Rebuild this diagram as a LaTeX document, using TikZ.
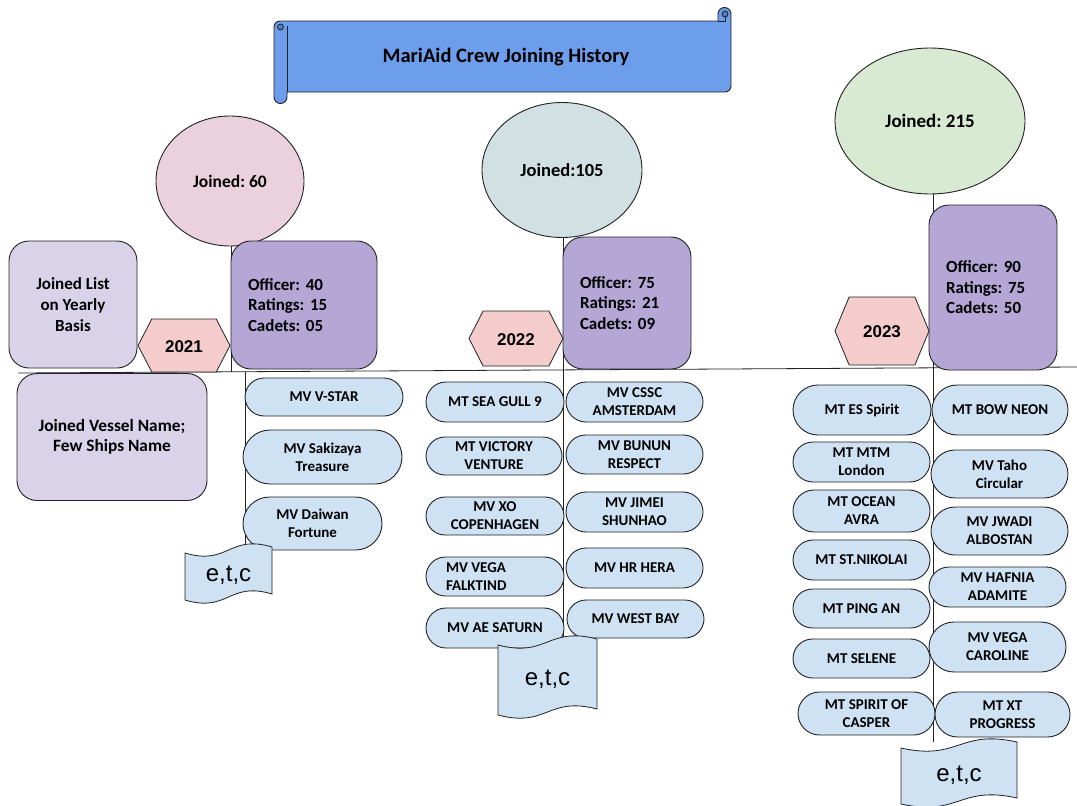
\documentclass[tikz,border=0pt]{standalone}
\usepackage{fontspec}
\setmainfont{Carlito}
\newfontfamily\arialfont{Liberation Sans}
\frenchspacing
\usetikzlibrary{shapes.misc,shapes.geometric}
\definecolor{bannerblue}{HTML}{6D9EEB}
\definecolor{pinkc}{HTML}{EAD1DC}
\definecolor{bluec}{HTML}{D0E0E3}
\definecolor{greenc}{HTML}{D9EAD3}
\definecolor{purplebox}{HTML}{B4A7D6}
\definecolor{lavbox}{HTML}{D9D2E9}
\definecolor{hexpink}{HTML}{F4CCCC}
\definecolor{pillblue}{HTML}{CFE2F3}
\definecolor{outline}{HTML}{222222}
\tikzset{
  every node/.style={text=black},
  pill/.style={rounded rectangle, draw=outline, line width=0.9pt, fill=pillblue, inner sep=0pt, align=center, font=\fontsize{15}{18}\selectfont\bfseries},
  pillleft/.style={pill, align=left},
  statbox/.style={draw=outline, line width=0.9pt, fill=purplebox, rounded corners=20pt, inner xsep=17pt, inner ysep=0pt, align=left, font=\fontsize{17}{20.5}\selectfont\bfseries},
  infobox/.style={draw=outline, line width=0.9pt, fill=lavbox, rounded corners=20pt, inner sep=0pt, align=center, font=\fontsize{17}{21}\selectfont\bfseries},
  joined/.style={ellipse, draw=outline, line width=0.9pt, inner sep=0pt},
  hexshape/.style={draw=outline, line width=0.8pt, fill=hexpink},
  yeartext/.style={font=\arialfont\fontsize{17}{20}\selectfont\bfseries, inner sep=0pt},
  tapeshape/.style={draw=outline, line width=0.8pt, fill=pillblue},
  etctext/.style={font=\arialfont\fontsize{24}{28}\selectfont, inner sep=0pt},
  conn/.style={draw=outline, line width=0.8pt},
  bannerstyle/.style={draw=outline, line width=0.9pt, fill=bannerblue},
}
% ship pill: [style] name, left, top, right, bottom, text
\newcommand{\shipnode}[7][pill]{%
  \node[#1, minimum width={(#5-#3)*1pt}, minimum height={(#6-#4)*1pt}] (#2) at ({(#3+#5)/2},{(#4+#6)/2}) {#7};}
% hexagon: name, l, t, r, b, text
\newcommand{\yearhex}[6]{%
  \draw[hexshape] (#2,{(#3+#5)/2}) -- ({#2+0.15*(#4-#2)},#3) -- ({#4-0.15*(#4-#2)},#3) -- (#4,{(#3+#5)/2}) -- ({#4-0.15*(#4-#2)},#5) -- ({#2+0.15*(#4-#2)},#5) -- cycle;
  \node[yeartext] (#1) at ({(#2+#4)/2},{(#3+#5)/2+1}) {#6};}
% punched tape: name, l, t, r, b
\newcommand{\etctape}[5]{%
  \draw[tapeshape] (#2,{#3+3}) .. controls ({(#2+#4)/2},{#3+16}) and ({(#2+#4)/2},{#3-16}) .. (#4,{#3-3})
    -- (#4,{#5-3}) .. controls ({(#2+#4)/2},{#5-16}) and ({(#2+#4)/2},{#5+16}) .. (#2,{#5+3}) -- cycle;
  \node[etctext] (#1) at ({(#2+#4)/2},{(#3+#5)/2+2}) {e,t,c};}
\begin{document}
\begin{tikzpicture}[x=1pt,y=-1pt]
\useasboundingbox (0,0) rectangle (1077,806);
\fill[white] (0,0) rectangle (1077,806);

% ---------- banner ----------
\draw[bannerstyle] (274,27) arc[start angle=180, end angle=270, radius=6] -- (718,21) -- (718,14)
  arc[start angle=180, end angle=360, radius=6.5] -- (731,86)
  arc[start angle=0, end angle=90, radius=6] -- (287,92) -- (287,97)
  arc[start angle=0, end angle=180, radius=6.5] -- cycle;
\draw[conn] (287,26) -- (287,92);
\draw[conn, fill=bannerblue!80!black] (280.5,27) circle[radius=3];
\draw[conn, fill=bannerblue!80!black] (725,14) circle[radius=3];
\draw[conn] (718,21) -- (725,21) -- (725,17);
\node[font=\fontsize{20.5}{24}\selectfont\bfseries, inner sep=0pt] (title) at (506,57) {MariAid Crew Joining History};

% ---------- connectors ----------
\coordinate (tlL) at (18,373);
\coordinate (tlR) at (1077,367);
\coordinate (a21) at (231,372);
\coordinate (b21) at (245,372);
\coordinate (b21e) at (245,552);
\coordinate (a22) at (563,640);
\coordinate (a23) at (933,742);

\node[joined, fill=pinkc, minimum width=148pt, minimum height=130pt, font=\fontsize{17.5}{20}\selectfont\bfseries] (c21) at (230,181) {Joined: 60};
\node[joined, fill=bluec, minimum width=160pt, minimum height=135pt, font=\fontsize{18.5}{22}\selectfont\bfseries] (c22) at (562,170) {Joined:105};
\node[joined, fill=greenc, minimum width=190pt, minimum height=146pt, font=\fontsize{19}{22}\selectfont\bfseries] (c23) at (930,121) {Joined: 215};

\draw[conn] (tlL) -- (tlR);
\draw[conn] (231,246) -- (a21);
\draw[conn] (b21) -- (b21e);
\draw[conn] (563,237) -- (a22);
\draw[conn] (933,194) -- (a23);

% ---------- stat boxes ----------
\node[statbox, text width=112pt, minimum height=128pt] (s21) at (304,305) {Officer: 40\\Ratings: 15\\Cadets: 05};
\node[statbox, text width=94pt, minimum height=132pt] (s22) at (627,303) {Officer: 75\\Ratings: 21\\Cadets: 09};
\node[statbox, text width=94pt, minimum height=165pt] (s23) at (993,287.5) {Officer: 90\\Ratings: 75\\Cadets: 50};

% ---------- info boxes ----------
\node[infobox, minimum width=128pt, minimum height=127pt] (info1) at (73,304.5) {Joined List\\on Yearly\\Basis};
\node[infobox, minimum width=190pt, minimum height=127pt, font=\fontsize{17.3}{20}\selectfont\bfseries] (info2) at (112,437) {Joined Vessel Name;\\Few Ships Name};

% ---------- year hexagons ----------
\yearhex{y21}{138}{319}{230}{372}{2021}
\yearhex{y22}{469}{311}{563}{366}{2022}
\yearhex{y23}{835}{297}{929}{365}{2023}

% ---------- 2021 ships ----------
\shipnode{s21a}{245}{378}{403}{416}{MV V-STAR}
\shipnode{s21b}{243}{430}{402}{484}{MV Sakizaya\\Treasure}
\shipnode{s21c}{243}{497}{382}{550}{MV Daiwan\\Fortune}
\etctape{e21}{185}{550}{272}{597}

% ---------- 2022 ships ----------
\shipnode{s22a}{426}{382}{564}{422}{MT SEA GULL 9}
\shipnode{s22b}{426}{437}{562}{475}{MT VICTORY\\VENTURE}
\shipnode{s22c}{426}{497}{564}{535}{MV XO\\COPENHAGEN}
\shipnode[pillleft]{s22d}{426}{557}{564}{596}{MV VEGA\hspace*{38pt}\\FALKTIND}
\shipnode{s22e}{426}{608}{564}{648}{MV AE SATURN}
\shipnode{s22f}{566}{382}{703}{422}{MV CSSC\\AMSTERDAM}
\shipnode{s22g}{566}{435}{703}{474}{MV BUNUN\\RESPECT}
\shipnode{s22h}{566}{492}{703}{532}{MV JIMEI\\SHUNHAO}
\shipnode{s22i}{566}{548}{703}{588}{MV HR HERA}
\shipnode{s22j}{567}{600}{704}{638}{MV WEST BAY}
\etctape{e22}{498}{642}{597}{712}

% ---------- 2023 ships ----------
\shipnode{s23a}{793}{385}{931}{435}{MT ES Spirit}
\shipnode{s23b}{793}{442}{930}{482}{MT MTM\\London}
\shipnode{s23c}{793}{490}{930}{532}{MT OCEAN\\AVRA}
\shipnode{s23d}{793}{540}{930}{580}{MT ST.NIKOLAI}
\shipnode{s23e}{793}{589}{930}{628}{MT PING AN}
\shipnode{s23f}{793}{639}{930}{678}{MT SELENE}
\shipnode{s23g}{798}{692}{935}{735}{MT SPIRIT OF\\CASPER}
\shipnode{s23h}{932}{385}{1068}{435}{MT BOW NEON}
\shipnode{s23i}{931}{450}{1068}{498}{MV Taho\\Circular}
\shipnode{s23j}{931}{507}{1068}{555}{MV JWADI\\ALBOSTAN}
\shipnode{s23k}{929}{567}{1066}{607}{MV HAFNIA\\ADAMITE}
\shipnode{s23l}{929}{622}{1066}{672}{MV VEGA\\CAROLINE}
\shipnode{s23m}{935}{692}{1070}{737}{MT XT\\PROGRESS}
\etctape{e23}{901}{745}{1017}{801}
\end{tikzpicture}
\end{document}
